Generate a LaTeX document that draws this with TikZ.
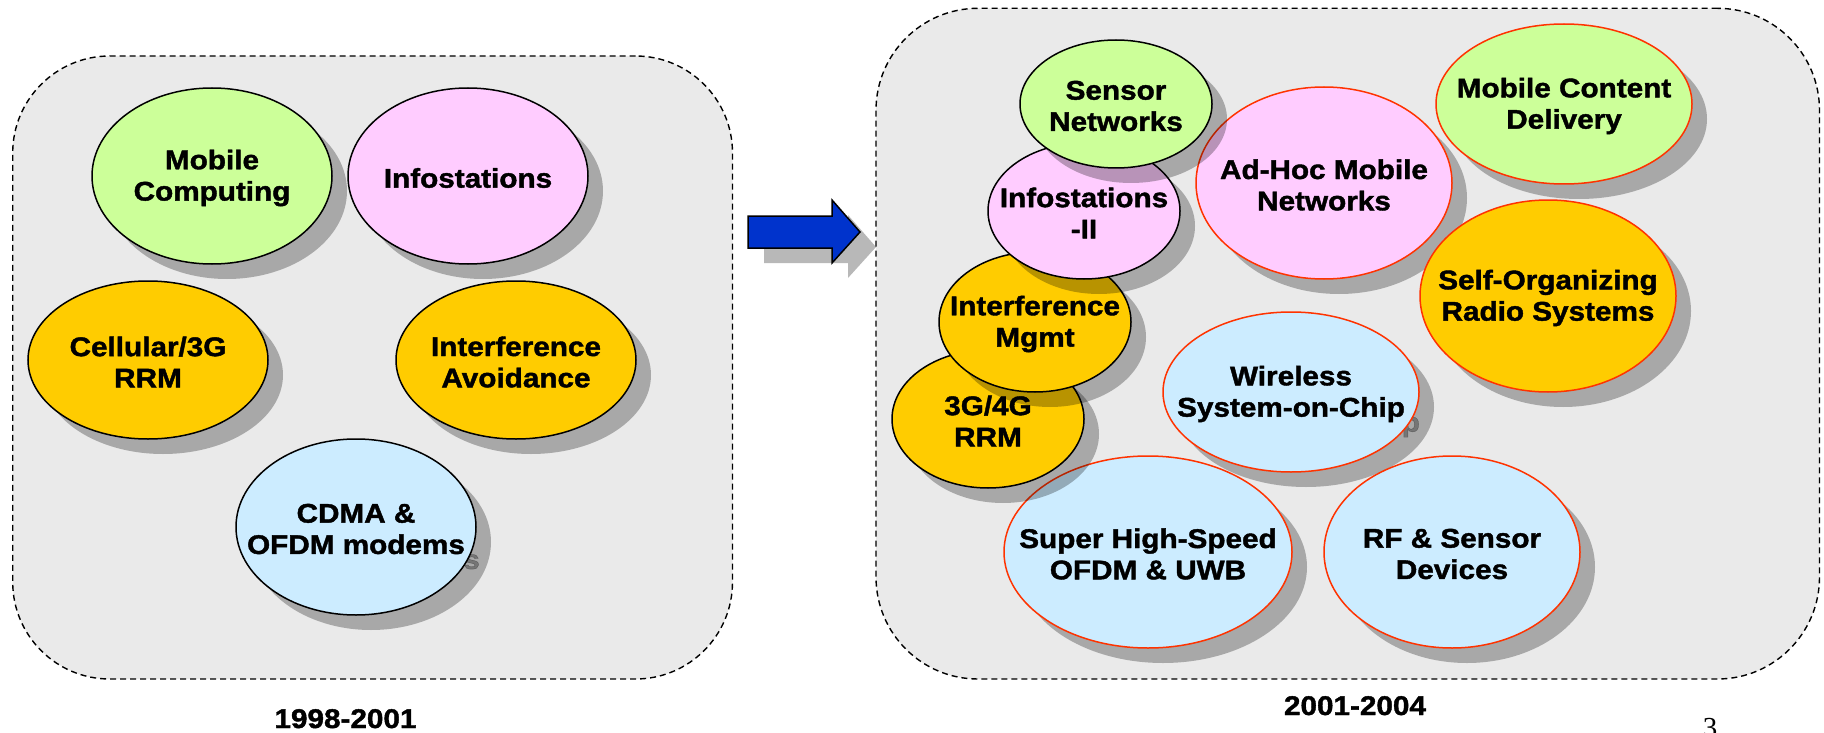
\documentclass[tikz,border=0pt]{standalone}
\usepackage{fontspec}
\setmainfont{Liberation Sans}
\newfontfamily\bubfont[FakeStretch=1.1,FakeBold=1.5]{Liberation Sans Bold}
\newfontfamily\pagefont{Liberation Serif}
\usetikzlibrary{shapes.geometric}
\definecolor{cgreen}{HTML}{CCFF99}
\definecolor{cpink}{HTML}{FFCCFF}
\definecolor{corange}{HTML}{FFCC00}
\definecolor{cblue}{HTML}{CCECFF}
\definecolor{cred}{HTML}{FF3300}
\definecolor{cpanel}{HTML}{EAEAEA}
\definecolor{carrow}{HTML}{0033CC}
\tikzset{
  panel/.style={draw=black, fill=cpanel, line width=1.4pt, dash pattern=on 6pt off 4pt, rectangle, inner sep=0pt},
  shd/.style={fill=black, fill opacity=0.28},
  bubble/.style={ellipse, inner sep=0pt, outer sep=0pt, line width=1.5pt},
  btxt/.style={align=center, inner sep=0pt, yshift=-2pt, font=\bubfont\fontsize{27pt}{31.3pt}\selectfont},
  yearlbl/.style={anchor=base, inner sep=0pt, font=\bubfont\fontsize{27pt}{31.3pt}\selectfont},
}
% bubble with shadow (ellipse only)
\newcommand\bub[8]{%
  \fill[shd] (#2+15,#3+15) ellipse [x radius=#4pt, y radius=#5pt];
  \node[bubble, fill=#6, draw=#7, minimum width={2*#4pt}, minimum height={2*#5pt}] (#1) at (#2,#3) {};
  \node[btxt] (#1-t) at (#1.center) {#8};
}
% bubble whose text shadow shows past its edge
\newcommand\bubx[8]{%
  \fill[shd] (#2+15,#3+15) ellipse [x radius=#4pt, y radius=#5pt];
  \node[btxt, text opacity=0.3] (#1-s) at (#2+15,#3+15) {#8};
  \node[bubble, fill=#6, draw=#7, minimum width={2*#4pt}, minimum height={2*#5pt}] (#1) at (#2,#3) {};
  \node[btxt] (#1-t) at (#1.center) {#8};
}
\begin{document}
\begin{tikzpicture}[x=1pt,y=-1pt]
\useasboundingbox (0,0) rectangle (1824,733);
% panels
\node[panel, rounded corners=97pt, minimum width=719.8pt, minimum height=623pt] (left) at (372.6,367.5) {};
\node[panel, rounded corners=102pt, minimum width=943.5pt, minimum height=670.7pt] (right) at (1347.75,343.65) {};
% arrow
\fill[shd] (764,231) -- (848,231) -- (848,215) -- (876,247) -- (848,278) -- (848,263) -- (764,263) -- cycle;
\filldraw[fill=carrow, draw=black, line width=1.5pt, line join=miter] (748,216) -- (832,216) -- (832,200) -- (860,232) -- (832,263) -- (832,248) -- (748,248) -- cycle;
% left panel
\bub{mc}{212}{176}{120}{88}{cgreen}{black}{Mobile\\Computing}
\bub{info}{468}{176}{120}{88}{cpink}{black}{Infostations}
\bub{cell}{148}{360}{120}{79}{corange}{black}{Cellular/3G\\RRM}
\bub{intav}{516}{360}{120}{79}{corange}{black}{Interference\\Avoidance}
\bubx{cdma}{356}{527}{120}{88}{cblue}{black}{CDMA \&\\OFDM modems}
% right panel
\bub{adhoc}{1324}{183}{128}{96}{cpink}{cred}{Ad-Hoc Mobile\\Networks}
\bub{mcd}{1564}{104}{128}{80}{cgreen}{cred}{Mobile Content\\Delivery}
\bub{sor}{1548}{296}{128}{96}{corange}{cred}{Self-Organizing\\Radio Systems}
\bubx{wsoc}{1291}{392}{128}{80}{cblue}{cred}{Wireless\\System-on-Chip}
\bub{shs}{1148}{552}{144}{96}{cblue}{cred}{Super High-Speed\\OFDM \& UWB}
\bub{rf}{1452}{552}{128}{96}{cblue}{cred}{RF \& Sensor\\Devices}
\bub{gg}{988}{419}{96}{69}{corange}{black}{3G/4G\\RRM}
\bub{imgmt}{1035}{322}{96}{70}{corange}{black}{Interference\\Mgmt}
\bub{infob}{1084}{211}{96}{68}{cpink}{black}{Infostations\\-II}
\bub{sensor}{1116}{104}{96}{64}{cgreen}{black}{Sensor\\Networks}
% labels
\node[yearlbl] (y1) at (345.5,728) {1998-2001};
\node[yearlbl] (y2) at (1355,715) {2001-2004};
\node[anchor=base, inner sep=0pt, font=\pagefont\fontsize{29pt}{32pt}\selectfont] (pg) at (1710,737) {3};
\end{tikzpicture}
\end{document}
